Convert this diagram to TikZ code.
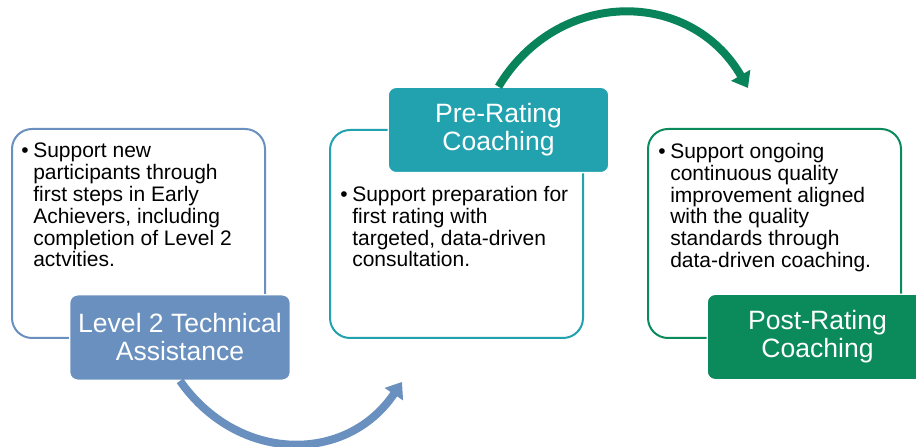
\documentclass[tikz,border=0pt]{standalone}
\usepackage{fontspec}
\setmainfont{Liberation Sans}
\usetikzlibrary{positioning, arrows.meta}

\definecolor{tablue}{HTML}{6990BE}
\definecolor{preteal}{HTML}{22A2AE}
\definecolor{postgreen}{HTML}{0B8A5C}
\definecolor{arrowgreen}{HTML}{09845A}

\newcommand{\bodyindent}{\hspace*{9pt}}
\newcommand{\bodybullet}{\makebox[9pt][l]{\textbullet}}

\begin{document}
\begin{tikzpicture}[x=0.75pt, y=0.75pt,
        body node/.style={rectangle, rounded corners=15pt, draw=#1, line width=1.5pt,
        fill=white, minimum width=189.75pt, minimum height=156.75pt, inner sep=0pt},
        label node/.style={rectangle, rounded corners=6pt, draw=white, line width=1pt,
        fill=#1, text=white, minimum width=165.5pt, minimum height=64pt, align=center,
        font=\fontsize{19.9pt}{21pt}\selectfont},
        item text/.style={anchor=north west, inner sep=0pt, align=left,
        font=\fontsize{15.75pt}{16.35pt}\selectfont},
        cycle arrow/.style={line width=6pt, draw=#1, -{Triangle[length=11pt, width=16pt]}}]
        \useasboundingbox (0,0) rectangle (916,446);

        \node[body node=tablue] (body1) at (138.5,212.5) {};
        \node[body node=preteal, minimum height=156pt] (body2) at (456.5,212) {};
        \node[body node=postgreen] (body3) at (774.5,212.5) {};

        \node[item text] (item1) at (21,303) {\bodybullet Support new\\
            \bodyindent participants through\\ \bodyindent first steps in Early\\
            \bodyindent Achievers, including\\ \bodyindent completion of Level 2\\
            \bodyindent actvities.};
        \node[item text] (item2) at (340,260) {\bodybullet Support preparation for\\
            \bodyindent first rating with\\ \bodyindent targeted, data-driven\\
            \bodyindent consultation.};
        \node[item text] (item3) at (658,303) {\bodybullet Support ongoing\\
            \bodyindent continuous quality\\ \bodyindent improvement aligned\\
            \bodyindent with the quality\\ \bodyindent standards through\\
            \bodyindent data-driven coaching.};

        \coordinate (tip1) at (402,64);
        \coordinate (tip2) at (748,358);

        \node[label node=tablue] (label1) at (180,108.5) {Level 2 Technical\\Assistance};
        \node[label node=preteal] (label2) at (498.5,316) {Pre-Rating\\Coaching};
        \node[label node=postgreen] (label3) at (817.5,109) {Post-Rating\\Coaching};

        \draw[cycle arrow=tablue] (label1.south) to[out=-55, in=-124, looseness=1.15] (tip1);
        \draw[cycle arrow=arrowgreen] (label2.north) to[out=59, in=120, looseness=1.18] (tip2);
    \end{tikzpicture}
\end{document}
